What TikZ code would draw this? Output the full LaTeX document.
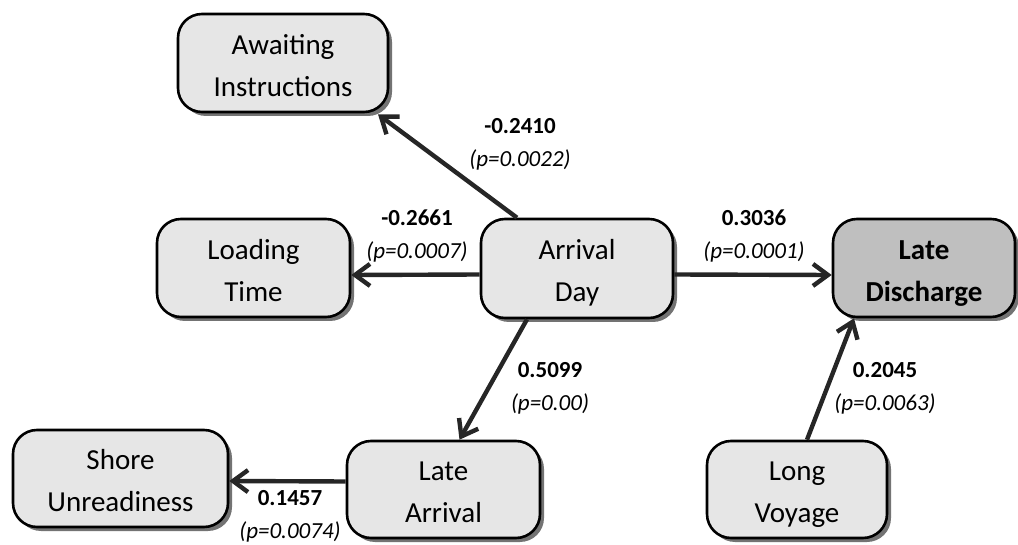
\documentclass[tikz,border=0pt]{standalone}
\usepackage{fontspec}
\setmainfont{Carlito}
\usetikzlibrary{arrows.meta,shadows}
\definecolor{boxfill}{HTML}{E6E6E6}
\definecolor{outfill}{HTML}{BFBFBF}
\definecolor{linkcol}{HTML}{262626}
% two centred lines, set a little below the middle of the box
\newcommand{\twoline}[2]{\raisebox{-4pt}[\height][\depth]{\begin{tabular}{@{}c@{}}#1\\#2\end{tabular}}}
\tikzset{
  factor/.style={draw=black, line width=2.6pt, fill=boxfill, rounded corners=24pt,
    inner sep=0pt, font=\fontsize{29}{42}\selectfont,
    drop shadow={shadow xshift=4pt, shadow yshift=-4pt, fill=black!55, opacity=1}},
  outcome/.style={factor, fill=outfill, font=\fontsize{29}{42}\selectfont\bfseries},
  link/.style={draw=linkcol, line width=4.4pt,
    -{Straight Barb[length=15pt, width=22pt, line width=4.4pt]}},
  coef/.style={align=center, inner sep=0pt, font=\fontsize{23}{33}\selectfont}
}
\begin{document}
\begin{tikzpicture}[x=1pt, y=-1pt]
\useasboundingbox (0,0) rectangle (1018,545);

% factors
\node[factor, minimum width=210pt, minimum height=98pt] (await) at (283,63) {\twoline{Awaiting}{Instructions}};
\node[factor, minimum width=193pt, minimum height=98pt] (load) at (253.5,268) {\twoline{Loading}{Time}};
\node[factor, minimum width=192pt, minimum height=99pt] (arrday) at (577,268.5) {\twoline{Arrival}{Day}};
\node[outcome, minimum width=182pt, minimum height=98pt] (disch) at (924,268) {\twoline{Late}{Discharge}};
\node[factor, minimum width=215pt, minimum height=97pt] (shore) at (120.5,478.5) {\twoline{Shore}{Unreadiness}};
\node[factor, minimum width=193pt, minimum height=97pt] (latearr) at (443.5,489.5) {\twoline{Late}{Arrival}};
\node[factor, minimum width=180pt, minimum height=97pt] (voyage) at (797,489.5) {\twoline{Long}{Voyage}};

% effects
\draw[link] ([xshift=-60pt]arrday.north) -- ([xshift=95pt,yshift=-1pt]await.south);
\draw[link] ([yshift=-6pt]arrday.west) -- ([yshift=-7pt]load.east);
\draw[link] ([yshift=-6pt]arrday.east) -- ([yshift=-7pt]disch.west);
\draw[link] ([xshift=-50pt]arrday.south) -- ([xshift=16pt]latearr.north);
\draw[link] ([yshift=8pt]latearr.west) -- ([yshift=-2.5pt]shore.east);
\draw[link] ([xshift=10pt]voyage.north) -- ([xshift=-70pt]disch.south);

% coefficients
\node[coef] (c1) at (520,144) {\textbf{-0.2410}\\\textit{(p=0.0022)}};
\node[coef] (c2) at (417,236) {\textbf{-0.2661}\\\textit{(p=0.0007)}};
\node[coef] (c3) at (754,236) {\textbf{0.3036}\\\textit{(p=0.0001)}};
\node[coef] (c4) at (550,388) {\textbf{0.5099}\\\textit{(p=0.00)}};
\node[coef] (c5) at (885,388) {\textbf{0.2045}\\\textit{(p=0.0063)}};
\node[coef] (c6) at (290,516) {\textbf{0.1457}\\\textit{(p=0.0074)}};
\end{tikzpicture}
\end{document}
